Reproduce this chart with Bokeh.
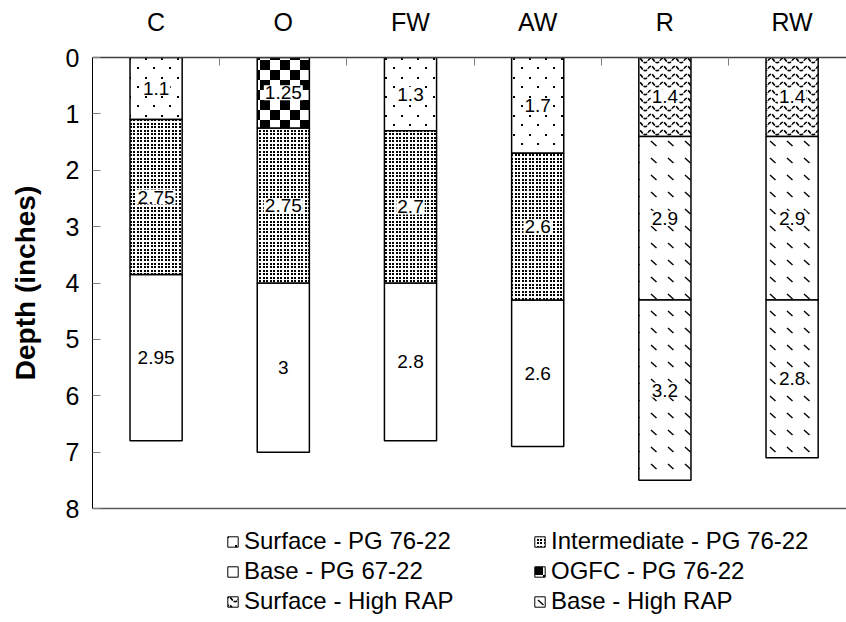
import base64
from bokeh.plotting import figure
from bokeh.layouts import column
from bokeh.models import (Range1d, LinearAxis, FixedTicker, SingleIntervalTicker,
                          CustomJSTickFormatter, ColumnDataSource, Legend, LegendItem,
                          ImageURLTexture)
from bokeh.core.properties import value
from bokeh.embed import file_html
from bokeh.resources import INLINE

# ---------------- data ----------------
categories = ["C", "O", "FW", "AW", "R", "RW"]

layer1_depth = [1.1, 1.25, 1.3, 1.7, 1.4, 1.4]
layer1_mix = ["Surface - PG 76-22", "OGFC - PG 76-22", "Surface - PG 76-22",
              "Surface - PG 76-22", "Surface - High RAP", "Surface - High RAP"]
layer2_depth = [2.75, 2.75, 2.7, 2.6, 2.9, 2.9]
layer2_mix = ["Intermediate - PG 76-22", "Intermediate - PG 76-22", "Intermediate - PG 76-22",
              "Intermediate - PG 76-22", "Base - High RAP", "Base - High RAP"]
layer3_depth = [2.95, 3.0, 2.8, 2.6, 3.2, 2.8]
layer3_mix = ["Base - PG 67-22", "Base - PG 67-22", "Base - PG 67-22",
              "Base - PG 67-22", "Base - High RAP", "Base - High RAP"]

legend_col1 = ["Surface - PG 76-22", "Base - PG 67-22", "Surface - High RAP"]
legend_col2 = ["Intermediate - PG 76-22", "OGFC - PG 76-22", "Base - High RAP"]

depth_max = 8

FONT = "Liberation Sans"

# ---------------- fill patterns (SVG tiles) ----------------
def svg_texture(w, h, body):
    svg = (f"<svg xmlns='http://www.w3.org/2000/svg' width='{w}' height='{h}'>"
           f"<rect width='{w}' height='{h}' fill='white'/>{body}</svg>")
    url = "data:image/svg+xml;base64," + base64.b64encode(svg.encode()).decode()
    return ImageURLTexture(url=url, repetition="repeat")

textures = {
    "Surface - PG 76-22": svg_texture(16, 19,
        "<rect x='1' y='1' width='2' height='2'/><rect x='9' y='10' width='2' height='2'/>"),
    "Intermediate - PG 76-22": svg_texture(7, 7,
        "<rect x='0' y='0' width='2' height='2'/><rect x='4' y='0' width='2' height='2'/>"
        "<rect x='0' y='4' width='2' height='2'/><rect x='4' y='4' width='2' height='2'/>"),
    "OGFC - PG 76-22": svg_texture(20, 20,
        "<rect width='10' height='10'/><rect x='10' y='10' width='10' height='10'/>"),
    "Surface - High RAP": svg_texture(12, 8,
        "<path d='M0 4.5 C2 1.5 4 1.5 6 4.5 S10 7.5 12 4.5' fill='none' stroke='black' "
        "stroke-width='1.5' stroke-dasharray='4 1'/>"),
    "Base - High RAP": svg_texture(17, 17,
        "<path d='M5 5 L10.5 10' fill='none' stroke='black' stroke-width='1.4'/>"),
}

def style_for(mix):
    t = textures.get(mix)
    if t is None:
        return {}
    return dict(hatch_pattern=value("tile"), hatch_extra={"tile": t},
                hatch_color="black", hatch_alpha=1.0)

# ---------------- build segments ----------------
segs = {}
labels = dict(x=[], y=[], text=[])
for i, cat in enumerate(categories):
    top = 0.0
    for depth, mix in ((layer1_depth[i], layer1_mix[i]),
                       (layer2_depth[i], layer2_mix[i]),
                       (layer3_depth[i], layer3_mix[i])):
        bottom = top + depth
        d = segs.setdefault(mix, dict(x=[], top=[], bottom=[]))
        d["x"].append(i + 0.5)
        d["top"].append(top)
        d["bottom"].append(bottom)
        labels["x"].append(i + 0.5)
        labels["y"].append((top + bottom) / 2)
        labels["text"].append(f"{depth:g}")
        top = bottom

# ---------------- main figure ----------------
W = 846
LEFT, TOP, BOTTOM = 92, 57, 16
MAIN_H = 508 + BOTTOM
LEG_H = 622 - MAIN_H
px_per_cat = 127.2
BAR_W = 0.41

p = figure(width=W, height=MAIN_H, output_backend="svg", toolbar_location=None,
           x_range=Range1d(0, (W - LEFT) / px_per_cat), y_range=Range1d(depth_max, 0),
           x_axis_location=None, y_axis_location="left",
           min_border_left=LEFT, min_border_top=TOP, min_border_bottom=BOTTOM,
           min_border_right=0)
p.outline_line_color = None
p.grid.visible = False

for mix in legend_col1 + legend_col2:
    p.vbar(x="x", top="top", bottom="bottom", width=BAR_W,
           source=ColumnDataSource(segs[mix]), fill_color="white",
           line_color="black", line_width=1.5, **style_for(mix))

p.text(x="x", y="y", text="text", source=ColumnDataSource(labels),
       text_font=value(FONT), text_font_size="19px", text_align="center",
       text_baseline="middle", text_color="black",
       background_fill_color="white", padding=1)

# left axis
ya = p.yaxis[0]
ya.ticker = SingleIntervalTicker(interval=1)
ya.axis_line_color = "black"
ya.axis_line_width = 1
ya.major_tick_in = 8
ya.major_tick_out = 0
ya.minor_tick_out = 0
ya.minor_tick_in = 0
ya.major_tick_line_color = "#7f7f7f"
ya.minor_tick_line_color = None
ya.major_label_text_font = FONT
ya.major_label_text_font_size = "25px"
ya.major_label_text_color = "black"
ya.major_label_standoff = 13
ya.axis_label = "Depth (inches)"
ya.axis_label_text_font = FONT
ya.axis_label_text_font_style = "bold"
ya.axis_label_text_font_size = "28px"
ya.axis_label_text_color = "black"
ya.axis_label_standoff = 22

# top categorical axis
centers = [i + 0.5 for i in range(len(categories))]
bounds = [i for i in range(1, len(categories))]
top_axis = LinearAxis(
    ticker=FixedTicker(ticks=centers, minor_ticks=bounds),
    formatter=CustomJSTickFormatter(args=dict(names=categories),
                                    code="return names[Math.floor(tick)] || '';"),
    axis_line_color="#404040", axis_line_width=1.5,
    major_tick_line_color=None, major_tick_in=0, major_tick_out=0,
    minor_tick_line_color="#7f7f7f", minor_tick_in=8, minor_tick_out=0,
    major_label_text_font=FONT, major_label_text_font_size="25px",
    major_label_text_color="black", major_label_standoff=22)
p.add_layout(top_axis, "above")

# bottom line
bottom_axis = LinearAxis(
    ticker=FixedTicker(ticks=[]), axis_line_color="#595959", axis_line_width=1.5,
    major_tick_line_color=None, minor_tick_line_color=None,
    major_label_text_font_size="0px", major_label_standoff=0,
    major_tick_in=0, major_tick_out=0, minor_tick_in=0, minor_tick_out=0)
p.add_layout(bottom_axis, "below")

# ---------------- legend figure ----------------
lf = figure(width=W, height=LEG_H, output_backend="svg", toolbar_location=None,
            x_range=Range1d(0, 1), y_range=Range1d(0, 1),
            x_axis_location=None, y_axis_location=None, min_border=0)
lf.outline_line_color = None
lf.grid.visible = False

items = []
for mix in legend_col1 + legend_col2:
    r = lf.vbar(x="x", top="top", bottom="bottom", width=BAR_W,
                source=ColumnDataSource(segs[mix]),
                fill_color="white", line_color="black", line_width=1,
                visible=False, **style_for(mix))
    items.append(LegendItem(label=mix, renderers=[r]))

legend = Legend(items=items, location=(226 - LEFT, 6), orientation="vertical", ncols=2,
                border_line_color=None, background_fill_alpha=0,
                inactive_fill_alpha=0,
                padding=0, margin=0, spacing=0, label_height=30, label_width=289,
                glyph_width=13, glyph_height=13, label_standoff=5,
                label_text_font=FONT, label_text_font_size="24px",
                label_text_color="black")
lf.add_layout(legend)

layout = column(p, lf, spacing=0)
open("out.html", "w").write(file_html(layout, INLINE))
